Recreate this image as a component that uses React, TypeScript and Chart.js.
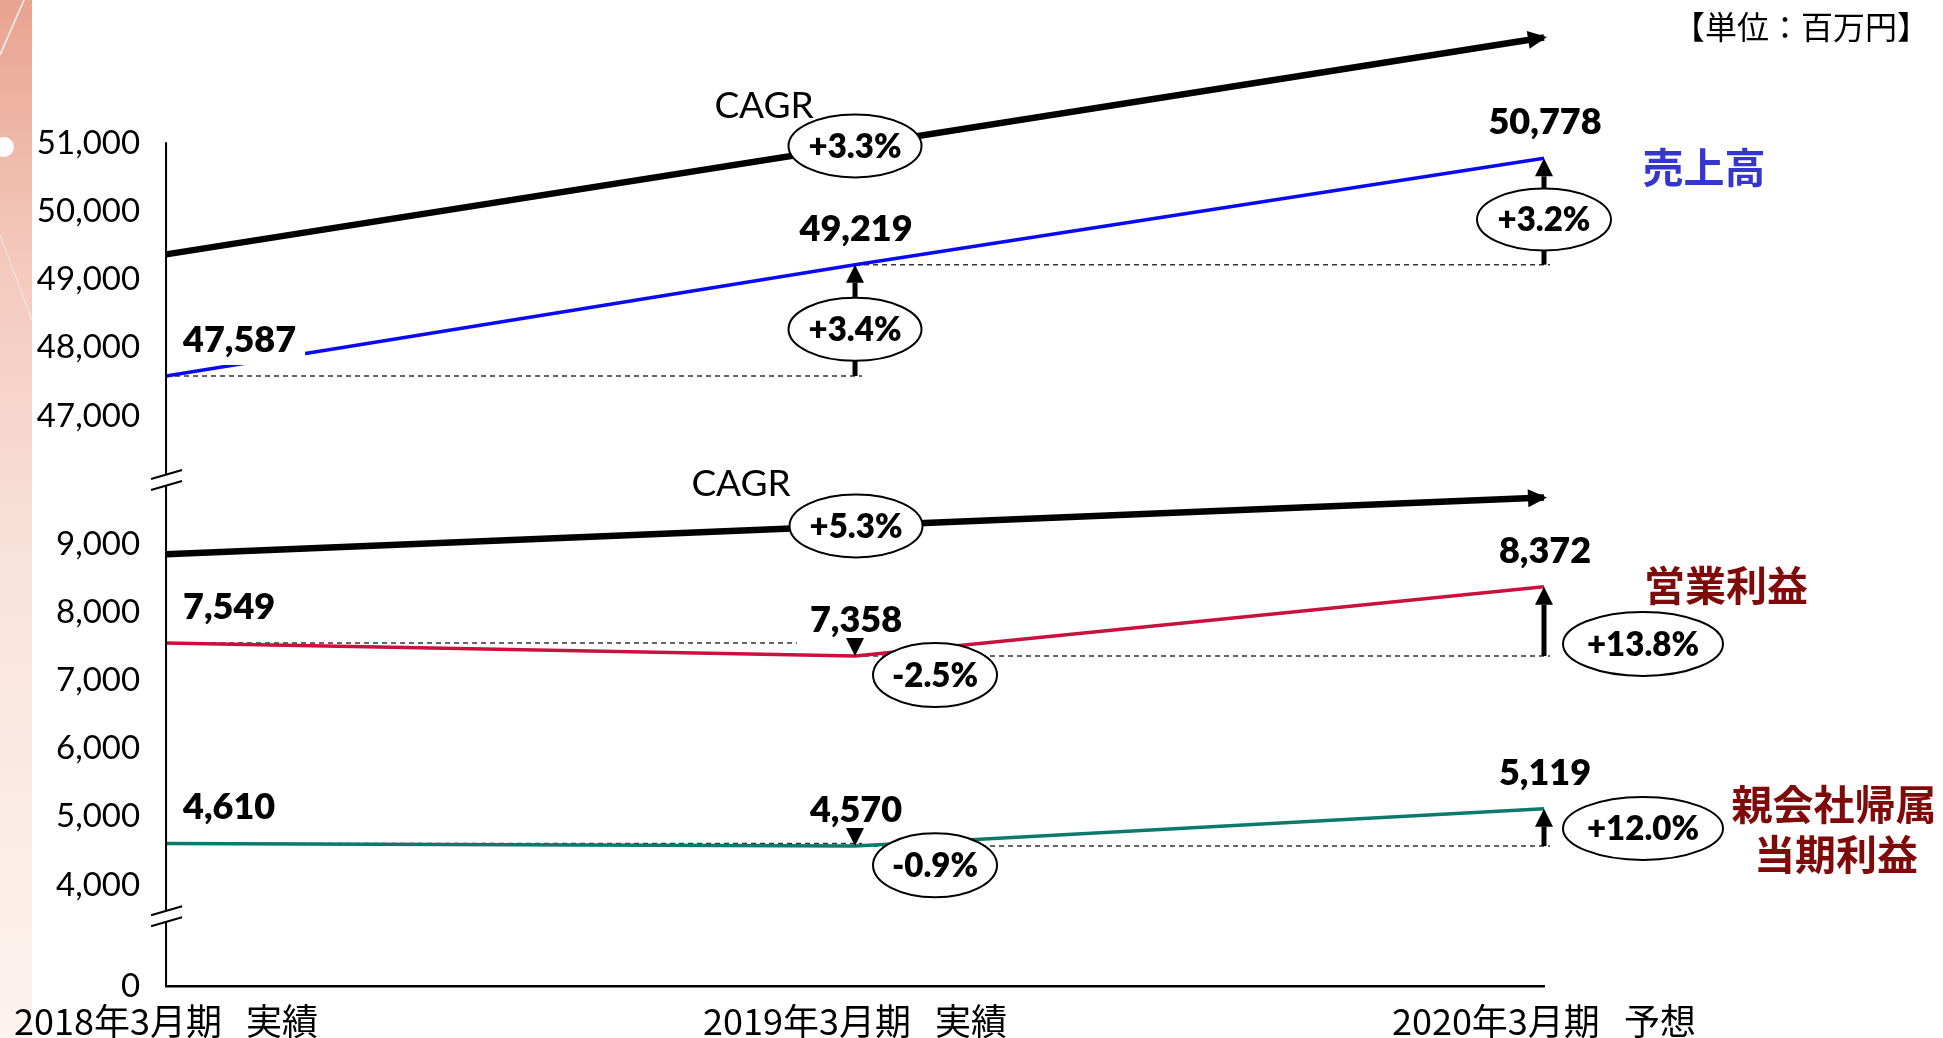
import { useEffect, useRef } from 'react';
import { Chart, registerables } from 'chart.js';

Chart.register(...registerables);

// ---------------- data ----------------
const categories = ['2018年3月期   実績', '2019年3月期   実績', '2020年3月期   予想'];
const salesValues = [47587, 49219, 50778];
const operatingValues = [7549, 7358, 8372];
const netIncomeValues = [4610, 4570, 5119];
// CAGR trend arrows: value at first category and at last category
const salesTrendEnds = [49370, 52550];
const profitTrendEnds = [8850, 9680];
const yTickValues = [0, 4000, 5000, 6000, 7000, 8000, 9000, 47000, 48000, 49000, 50000, 51000];
const seriesNames = ['売上高', '営業利益', '親会社帰属', '当期利益'];
const unitLabel = '【単位：百万円】';
const trendLabel = 'CAGR';

// ---------------- layout ----------------
const W = 1943;
const H = 1038;
const PLOT_LEFT = 166;
const PLOT_RIGHT = 1544;
const PLOT_TOP = 30;
const PLOT_BOTTOM = 986;
const PX_PER_UNIT = 68.2;

// broken axis: axis units are thousands; the sales block is shifted down
const HIGH_SHIFT = 36.123;
const ZERO_AXIS = 2.519;
const AXIS_MAX = ZERO_AXIS + (PLOT_BOTTOM - PLOT_TOP) / PX_PER_UNIT;

function toAxis(v: number): number {
  if (v >= 30000) return v / 1000 - HIGH_SHIFT;
  if (v >= 4000) return v / 1000;
  return ZERO_AXIS + (v / 4000) * (4 - ZERO_AXIS);
}

const fmt = (v: number) => v.toLocaleString('en-US');
const pct = (a: number, b: number) => {
  const p = (b / a - 1) * 100;
  return (p >= 0 ? '+' : '') + p.toFixed(1) + '%';
};
const cagr = (arr: number[]) => {
  const p = (Math.pow(arr[arr.length - 1] / arr[0], 1 / (arr.length - 1)) - 1) * 100;
  return (p >= 0 ? '+' : '') + p.toFixed(1) + '%';
};

const NUM_FONT = 'Lato, "Noto Sans", sans-serif';
const CJK_FONT = '"Noto Sans CJK JP", "Noto Sans", sans-serif';
const BOLD = '800';

function drawText(
  ctx: CanvasRenderingContext2D,
  str: string,
  x: number,
  yCenter: number,
  font: string,
  size: number,
  weight: string,
  align: CanvasTextAlign,
  color: string,
  cjk = false
) {
  ctx.save();
  ctx.font = `${weight} ${size}px ${font}`;
  ctx.fillStyle = color;
  ctx.textAlign = align;
  ctx.textBaseline = 'alphabetic';
  ctx.fillText(str, x, yCenter + (cjk ? 0.37 : 0.358) * size);
  ctx.restore();
}

function badge(ctx: CanvasRenderingContext2D, cx: number, cy: number, rx: number, ry: number, str: string) {
  ctx.save();
  ctx.beginPath();
  ctx.ellipse(cx, cy, rx, ry, 0, 0, Math.PI * 2);
  ctx.fillStyle = '#fff';
  ctx.fill();
  ctx.lineWidth = 2;
  ctx.strokeStyle = '#000';
  ctx.stroke();
  ctx.restore();
  drawText(ctx, str, cx, cy, NUM_FONT, 33, BOLD, 'center', '#000');
}

function vArrow(ctx: CanvasRenderingContext2D, x: number, yFrom: number, yTo: number) {
  const dir = yTo < yFrom ? -1 : 1;
  const head = 18;
  const base = yTo - dir * head;
  ctx.save();
  ctx.fillStyle = '#000';
  ctx.strokeStyle = '#000';
  if ((base - yFrom) * dir > 0) {
    ctx.lineWidth = 5;
    ctx.beginPath();
    ctx.moveTo(x, yFrom);
    ctx.lineTo(x, base);
    ctx.stroke();
  }
  ctx.beginPath();
  ctx.moveTo(x, yTo);
  ctx.lineTo(x - 9, base);
  ctx.lineTo(x + 9, base);
  ctx.closePath();
  ctx.fill();
  ctx.restore();
}

function hDash(ctx: CanvasRenderingContext2D, y: number, x1: number, x2: number) {
  ctx.save();
  ctx.setLineDash([5, 4]);
  ctx.strokeStyle = '#333';
  ctx.lineWidth = 1.5;
  ctx.beginPath();
  ctx.moveTo(x1, y);
  ctx.lineTo(x2, y);
  ctx.stroke();
  ctx.restore();
}

const decor = {
  id: 'decor',
  beforeDraw(chart: any) {
    const ctx: CanvasRenderingContext2D = chart.ctx;
    ctx.save();
    ctx.fillStyle = '#fff';
    ctx.fillRect(0, 0, W, H);
    const g = ctx.createLinearGradient(0, 0, 0, H);
    g.addColorStop(0, '#E9A391');
    g.addColorStop(0.25, '#F3C9BC');
    g.addColorStop(0.55, '#F9E3DB');
    g.addColorStop(1, '#FDF3EF');
    ctx.fillStyle = g;
    ctx.fillRect(0, 0, 32, H);
    ctx.strokeStyle = 'rgba(255,255,255,0.85)';
    ctx.lineWidth = 1.5;
    ctx.beginPath();
    ctx.moveTo(24, 0);
    ctx.lineTo(0, 55);
    ctx.stroke();
    ctx.strokeStyle = 'rgba(255,255,255,0.6)';
    ctx.lineWidth = 1;
    ctx.beginPath();
    ctx.moveTo(0, 235);
    ctx.lineTo(32, 320);
    ctx.stroke();
    ctx.fillStyle = 'rgba(255,255,255,0.95)';
    ctx.beginPath();
    ctx.arc(4, 147, 10, 0, Math.PI * 2);
    ctx.fill();
    ctx.restore();
  },
  beforeDatasetsDraw(chart: any) {
    const ctx: CanvasRenderingContext2D = chart.ctx;
    const xs = (i: number) => chart.scales.x.getPixelForValue(i);
    const ys = (v: number) => chart.scales.y.getPixelForValue(toAxis(v));
    hDash(ctx, ys(salesValues[0]), xs(0), xs(1) + 7);
    hDash(ctx, ys(salesValues[1]), xs(1), xs(2) + 6);
    hDash(ctx, ys(operatingValues[0]), xs(0), xs(1) - 58);
    hDash(ctx, ys(operatingValues[1]), xs(1), xs(2) + 6);
    hDash(ctx, ys(netIncomeValues[0]), xs(0), xs(1) + 7);
    hDash(ctx, ys(netIncomeValues[1]), xs(1), xs(2) + 6);
  },
  afterDatasetsDraw(chart: any) {
    const ctx: CanvasRenderingContext2D = chart.ctx;
    const xs = (i: number) => chart.scales.x.getPixelForValue(i);
    const ys = (v: number) => chart.scales.y.getPixelForValue(toAxis(v));

    // trend arrowheads
    [0, 1].forEach((di) => {
      const pts = chart.getDatasetMeta(di).data;
      const a = pts[0];
      const b = pts[2];
      const dx = b.x - a.x;
      const dy = b.y - a.y;
      const len = Math.hypot(dx, dy);
      const ux = dx / len;
      const uy = dy / len;
      const tipX = b.x + ux * 3;
      const tipY = b.y + uy * 3;
      const bx = tipX - ux * 19;
      const by = tipY - uy * 19;
      ctx.save();
      ctx.fillStyle = '#000';
      ctx.beginPath();
      ctx.moveTo(tipX, tipY);
      ctx.lineTo(bx - uy * 9, by + ux * 9);
      ctx.lineTo(bx + uy * 9, by - ux * 9);
      ctx.closePath();
      ctx.fill();
      ctx.restore();
    });

    // change arrows
    vArrow(ctx, xs(1), ys(salesValues[0]), ys(salesValues[1]));
    vArrow(ctx, xs(2), ys(salesValues[1]), ys(salesValues[2]));
    vArrow(ctx, xs(1), ys(operatingValues[0]), ys(operatingValues[1]));
    vArrow(ctx, xs(2), ys(operatingValues[1]), ys(operatingValues[2]));
    vArrow(ctx, xs(1), ys(netIncomeValues[0]), ys(netIncomeValues[1]));
    vArrow(ctx, xs(2), ys(netIncomeValues[1]), ys(netIncomeValues[2]));

    const mid = (arr: number[], i: number) => (ys(arr[i - 1]) + ys(arr[i])) / 2;

    // CAGR badges on trend lines
    const trendY = (di: number) => {
      const pts = chart.getDatasetMeta(di).data;
      return (pts[0].y + pts[2].y) / 2;
    };
    const t1 = trendY(0);
    const t2 = trendY(1);
    badge(ctx, xs(1), t1, 66.5, 31.5, cagr(salesValues));
    badge(ctx, xs(1) + 1, t2, 66.5, 31.5, cagr(operatingValues));
    drawText(ctx, trendLabel, xs(1) - 91, t1 - 41, NUM_FONT, 37, 'normal', 'center', '#000');
    drawText(ctx, trendLabel, xs(1) - 114, t2 - 43, NUM_FONT, 37, 'normal', 'center', '#000');

    // change badges
    badge(ctx, xs(1), mid(salesValues, 1) + 9, 66.5, 31.5, pct(salesValues[0], salesValues[1]));
    badge(ctx, xs(2), mid(salesValues, 2) + 8, 67, 31, pct(salesValues[1], salesValues[2]));
    badge(ctx, xs(1) + 80, mid(operatingValues, 1) + 25.5, 62, 32, pct(operatingValues[0], operatingValues[1]));
    badge(ctx, xs(2) + 99, mid(operatingValues, 2) + 22.5, 80, 32, pct(operatingValues[1], operatingValues[2]));
    badge(ctx, xs(1) + 80, mid(netIncomeValues, 1) + 20.5, 62, 32, pct(netIncomeValues[0], netIncomeValues[1]));
    badge(ctx, xs(2) + 99, mid(netIncomeValues, 2) + 1, 80, 31.5, pct(netIncomeValues[1], netIncomeValues[2]));

    // value labels
    const lab = (arr: number[], i: number) => {
      const x = xs(i);
      const y = ys(arr[i]) - 37;
      if (i === 0) {
        drawText(ctx, fmt(arr[i]), x + 17, y, NUM_FONT, 36, BOLD, 'left', '#000');
      } else {
        drawText(ctx, fmt(arr[i]), x + 1, y, NUM_FONT, 36, BOLD, 'center', '#000');
      }
    };
    // white box behind the first sales label (masks the line as in the original)
    {
      const y = ys(salesValues[0]) - 37;
      ctx.save();
      ctx.font = `${BOLD} 36px ${NUM_FONT}`;
      const w = ctx.measureText(fmt(salesValues[0])).width;
      ctx.fillStyle = '#fff';
      ctx.fillRect(xs(0) + 12, y - 24, w + 14, 50);
      ctx.restore();
    }
    [salesValues, operatingValues, netIncomeValues].forEach((arr) => {
      for (let i = 0; i < arr.length; i++) lab(arr, i);
    });

    // series names
    const last = xs(2);
    drawText(ctx, seriesNames[0], last + 160, ys(salesValues[2]) + 10, CJK_FONT, 41, 'bold', 'center', '#3535CF', true);
    drawText(ctx, seriesNames[1], last + 182, ys(operatingValues[2]) - 1, CJK_FONT, 41, 'bold', 'center', '#7F0A0A', true);
    drawText(ctx, seriesNames[2], last + 290, ys(netIncomeValues[2]) - 4, CJK_FONT, 41, 'bold', 'center', '#7F0A0A', true);
    drawText(ctx, seriesNames[3], last + 292, ys(netIncomeValues[2]) + 46, CJK_FONT, 41, 'bold', 'center', '#7F0A0A', true);

    // unit
    drawText(ctx, unitLabel, 1929, 27, CJK_FONT, 32, 'normal', 'right', '#000', true);
  },
  afterDraw(chart: any) {
    const ctx: CanvasRenderingContext2D = chart.ctx;
    const y = chart.scales.y;
    const x = chart.chartArea.left;
    const top = y.getPixelForValue(toAxis(51000)) - 1;
    const bottom = chart.chartArea.bottom;
    const bHigh = y.getPixelForValue((toAxis(9000) + toAxis(47000)) / 2);
    const bLow = y.getPixelForValue(ZERO_AXIS + 0.69 * (toAxis(4000) - ZERO_AXIS));
    const gap = 5.5;
    ctx.save();
    ctx.strokeStyle = '#000';
    ctx.lineWidth = 2;
    ctx.beginPath();
    ctx.moveTo(x, top);
    ctx.lineTo(x, bHigh - gap);
    ctx.moveTo(x, bHigh + gap);
    ctx.lineTo(x, bLow - gap);
    ctx.moveTo(x, bLow + gap);
    ctx.lineTo(x, bottom);
    ctx.stroke();
    [bHigh, bLow].forEach((c) => {
      [-gap, gap].forEach((k) => {
        ctx.beginPath();
        ctx.moveTo(x - 15, c + k + 4.5);
        ctx.lineTo(x + 16, c + k - 4.5);
        ctx.stroke();
      });
    });
    ctx.restore();
  },
};

export default function App() {
  const ref = useRef<HTMLCanvasElement | null>(null);

  useEffect(() => {
    document.body.style.margin = '0';
    const canvas = ref.current;
    if (!canvas) return;
    const chart: any = new Chart(canvas, {
      type: 'line',
      data: {
        labels: categories,
        datasets: [
          {
            label: 'CAGR sales',
            data: [toAxis(salesTrendEnds[0]), null, toAxis(salesTrendEnds[1])],
            borderColor: '#000',
            borderWidth: 6.5,
            spanGaps: true,
            pointRadius: 0,
            tension: 0,
            clip: false,
          },
          {
            label: 'CAGR profit',
            data: [toAxis(profitTrendEnds[0]), null, toAxis(profitTrendEnds[1])],
            borderColor: '#000',
            borderWidth: 6.5,
            spanGaps: true,
            pointRadius: 0,
            tension: 0,
            clip: false,
          },
          {
            label: seriesNames[0],
            data: salesValues.map(toAxis),
            borderColor: '#0A0AF2',
            borderWidth: 3.5,
            pointRadius: 0,
            tension: 0,
            clip: false,
          },
          {
            label: seriesNames[1],
            data: operatingValues.map(toAxis),
            borderColor: '#C9103F',
            borderWidth: 3.5,
            pointRadius: 0,
            tension: 0,
            clip: false,
          },
          {
            label: seriesNames[2] + seriesNames[3],
            data: netIncomeValues.map(toAxis),
            borderColor: '#0B7A6C',
            borderWidth: 3.5,
            pointRadius: 0,
            tension: 0,
            clip: false,
          },
        ],
      },
      options: {
        animation: false,
        responsive: false,
        clip: false,
        layout: { padding: { left: 0, right: W - PLOT_RIGHT, top: PLOT_TOP, bottom: 0 } },
        plugins: { legend: { display: false }, tooltip: { enabled: false } },
        scales: {
          x: {
            type: 'category',
            offset: false,
            grid: { display: false, drawTicks: false },
            border: { display: true, color: '#000', width: 2.5 },
            ticks: {
              autoSkip: false,
              maxRotation: 0,
              padding: 14,
              color: '#000',
              font: { family: CJK_FONT, size: 36 },
            },
            afterFit: (s: any) => {
              s.height = H - PLOT_BOTTOM;
            },
          },
          y: {
            type: 'linear',
            min: ZERO_AXIS,
            max: AXIS_MAX,
            grid: { display: false, drawTicks: false },
            border: { display: false },
            afterFit: (s: any) => {
              s.width = PLOT_LEFT;
            },
            afterBuildTicks: (s: any) => {
              s.ticks = yTickValues.map((v) => ({ value: toAxis(v) }));
            },
            ticks: {
              padding: 26,
              color: '#000',
              font: { family: NUM_FONT, size: 33 },
              callback: (_v: any, i: number) => fmt(yTickValues[i]),
            },
          },
        },
      },
      plugins: [decor],
    } as any);

    // calibrate the axis range to the real plot area so that one thousand = PX_PER_UNIT px
    const ca = chart.chartArea;
    const min = ZERO_AXIS - (ca.bottom - PLOT_BOTTOM) / PX_PER_UNIT;
    const max = min + (ca.bottom - ca.top) / PX_PER_UNIT;
    chart.options.scales.y.min = min;
    chart.options.scales.y.max = max;
    chart.update();

    return () => chart.destroy();
  }, []);

  return (
    <div style={{ position: 'absolute', left: 0, top: 0, width: W, height: H }}>
      <canvas ref={ref} width={W} height={H} style={{ display: 'block', width: W, height: H }} />
    </div>
  );
}
